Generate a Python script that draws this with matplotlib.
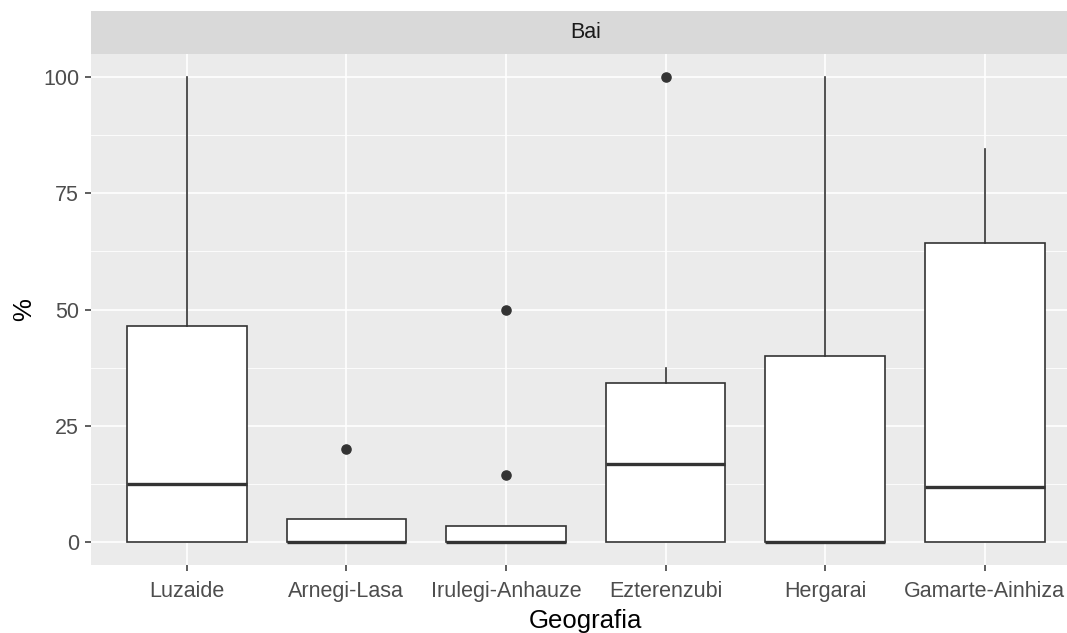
import matplotlib
matplotlib.use("Agg")
import matplotlib.pyplot as plt

plt.rcParams['font.family'] = ['Liberation Sans', 'DejaVu Sans']

# Summary statistics for each municipality (percent)
categories = ["Luzaide", "Arnegi-Lasa", "Irulegi-Anhauze", "Ezterenzubi", "Hergarai", "Gamarte-Ainhiza"]
q1 = [0, 0, 0, 0, 0, 0]
median = [12.5, 0, 0, 16.7, 0, 11.8]
q3 = [46.5, 4.8, 3.4, 34.1, 40, 64.3]
whisker_low = [0, 0, 0, 0, 0, 0]
whisker_high = [100, 4.8, 3.4, 37.5, 100, 84.6]
outliers = [[], [20], [14.3, 50], [100], [], []]

facet_label = "Bai"
y_ticks = [0, 25, 50, 75, 100]
y_minor = [12.5, 37.5, 62.5, 87.5]

W, H = 1067, 633
fig = plt.figure(figsize=(W / 100, H / 100), dpi=100)

# panel runs past the right edge of the canvas
left_px, right_px = 91, 1080.6
top_px, bottom_px = 54, 565
ax = fig.add_axes([left_px / W, 1 - bottom_px / H, (right_px - left_px) / W, (bottom_px - top_px) / H])
ax.set_facecolor("#EBEBEB")
for s in ax.spines.values():
    s.set_visible(False)

stats = []
for i, name in enumerate(categories):
    stats.append(dict(label=name, q1=q1[i], med=median[i], q3=q3[i],
                      whislo=whisker_low[i], whishi=whisker_high[i], fliers=outliers[i]))

positions = list(range(1, len(categories) + 1))
line_c = "#333333"
ax.bxp(stats, positions=positions, widths=0.75, patch_artist=True, showcaps=False,
       boxprops=dict(facecolor="white", edgecolor=line_c, linewidth=1.2),
       medianprops=dict(color=line_c, linewidth=2.4, solid_capstyle="butt"),
       whiskerprops=dict(color=line_c, linewidth=1.2),
       flierprops=dict(marker="o", markersize=6.6, markerfacecolor=line_c,
                       markeredgecolor=line_c),
       zorder=3)

ax.set_xlim(0.4, len(categories) + 0.6)
ax.set_ylim(-5, 105)
ax.set_xticks(positions)
ax.set_xticklabels(categories)
ax.set_yticks(y_ticks)
ax.set_yticklabels([str(v) for v in y_ticks])
ax.set_yticks(y_minor, minor=True)

ax.grid(True, which="major", color="white", linewidth=1.2, zorder=0)
ax.grid(True, which="minor", axis="y", color="white", linewidth=0.6, zorder=0)
ax.set_axisbelow(True)

ax.tick_params(axis="both", which="major", length=4.5, width=1.1, color="#333333",
               labelcolor="#4D4D4D", labelsize=15.5)
ax.tick_params(axis="x", which="major", pad=7)
ax.tick_params(axis="y", which="major", pad=4)
ax.tick_params(axis="y", which="minor", length=0)

ax.set_xlabel("Geografia", fontsize=18.5, color="black", labelpad=5)
ax.set_ylabel("%", fontsize=18.5, color="black", labelpad=5)

# facet strip
strip_top = 11
sax = fig.add_axes([left_px / W, 1 - top_px / H, (right_px - left_px) / W, (top_px - strip_top) / H])
sax.set_facecolor("#D9D9D9")
sax.set_xticks([])
sax.set_yticks([])
for s in sax.spines.values():
    s.set_visible(False)
sax.text(0.5, 0.5, facet_label, ha="center", va="center", fontsize=15.5,
         color="#1A1A1A", transform=sax.transAxes)

fig.savefig("out.png", dpi=100, facecolor="white")
